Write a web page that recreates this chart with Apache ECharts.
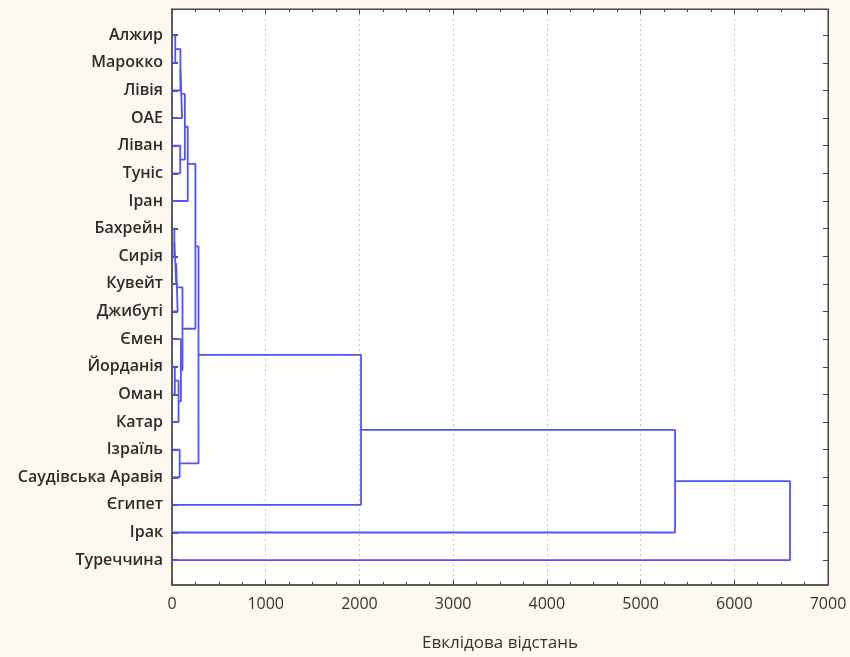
<!DOCTYPE html>
<html>
<head>
<meta charset="utf-8">
<script src="https://cdn.jsdelivr.net/npm/echarts@6/dist/echarts.min.js"></script>
<style>
html,body{margin:0;padding:0;background:#fdf9f0;}
#chart{width:850px;height:657px;}
</style>
</head>
<body>
<div id="chart"></div>
<script>
// Leaves (top to bottom)
const countries = ['Алжир','Марокко','Лівія','ОАЕ','Ліван','Туніс','Іран','Бахрейн','Сирія','Кувейт','Джибуті','Ємен','Йорданія','Оман','Катар','Ізраїль','Саудівська Аравія','Єгипет','Ірак','Туреччина'];
// Linkage: merge k creates cluster id 20+k
const mergeLeft  = [0, 20, 21, 4, 22, 24, 7, 26, 27, 12, 29, 11, 28, 15, 25, 34, 35, 36, 37];
const mergeRight = [1, 2, 3, 5, 23, 6, 8, 9, 10, 13, 14, 30, 31, 16, 32, 33, 17, 18, 19];
const mergeDist  = [35, 90, 108, 88, 137, 168, 25, 45, 60, 30, 70, 95, 112, 82, 250, 283, 2017, 5368, 6595];
const xTicks = [0, 1000, 2000, 3000, 4000, 5000, 6000, 7000];
const xTitle = 'Евклідова відстань';

const nLeaf = countries.length;
const pos = [], height = [];
for (let i = 0; i < nLeaf; i++) { pos[i] = i; height[i] = 0; }
const series = [];
const lineColor = '#5252fa';
for (let k = 0; k < mergeLeft.length; k++) {
  const a = mergeLeft[k], b = mergeRight[k], d = mergeDist[k];
  const id = nLeaf + k;
  pos[id] = (pos[a] + pos[b]) / 2;
  height[id] = d;
  series.push({
    type: 'line', xAxisIndex: 0, yAxisIndex: 0, symbol: 'none', silent: true,
    lineStyle: { color: lineColor, width: 1.8 },
    data: [[height[a], pos[a]], [d, pos[a]], [d, pos[b]], [height[b], pos[b]]]
  });
}

const chart = echarts.init(document.getElementById('chart'), null, { renderer: 'canvas' });
const labelFont = { fontFamily: 'Open Sans', fontSize: 16, fontWeight: 600, color: '#2c2c2c' };
const yVals = countries.map((c, i) => i);
const option = {
  animation: false,
  backgroundColor: '#fdf9f0',
  grid: { left: 172, right: 22, top: 9, bottom: 69, show: true, backgroundColor: '#ffffff', borderColor: '#444', borderWidth: 1 },
  xAxis: [{
    type: 'value', position: 'bottom', min: xTicks[0], max: xTicks[xTicks.length - 1], interval: 1000,
    name: xTitle, nameLocation: 'middle', nameGap: 50,
    nameTextStyle: { fontFamily: 'Open Sans', fontSize: 17, color: '#333' },
    axisLine: { show: true, onZero: false, lineStyle: { color: '#444', width: 1.5 } },
    axisTick: { show: true, inside: true, length: 5, lineStyle: { color: '#444' } },
    minorTick: { show: true, splitNumber: 4, length: 3, lineStyle: { color: '#444' } },
    axisLabel: { margin: 11, fontFamily: 'Open Sans', fontSize: 16, color: '#333', formatter: v => String(v) },
    splitLine: { show: true, lineStyle: { color: '#c8c8c8', type: [2, 3], width: 1 } }
  }, {
    type: 'value', position: 'top', min: xTicks[0], max: xTicks[xTicks.length - 1], interval: 1000,
    axisLine: { show: true, onZero: false, lineStyle: { color: '#444', width: 1 } },
    axisTick: { show: true, inside: true, length: 5, lineStyle: { color: '#444' } },
    minorTick: { show: true, splitNumber: 4, length: 3, lineStyle: { color: '#444' } },
    axisLabel: { show: false }, splitLine: { show: false }
  }],
  yAxis: [{
    type: 'value', position: 'left', inverse: true, min: -0.95, max: 19.9,
    axisLine: { show: true, onZero: false, lineStyle: { color: '#444', width: 1.5 } },
    axisTick: { show: true, inside: true, length: 6, customValues: yVals, lineStyle: { color: '#222', width: 1.5 } },
    axisLabel: { customValues: yVals, margin: 9, formatter: v => countries[Math.round(v)] || '', ...labelFont },
    splitLine: { show: false }
  }, {
    type: 'value', position: 'right', inverse: true, min: -0.95, max: 19.9,
    axisLine: { show: true, onZero: false, lineStyle: { color: '#444', width: 1 } },
    axisTick: { show: true, inside: true, length: 5, customValues: yVals, lineStyle: { color: '#444' } },
    axisLabel: { show: false }, splitLine: { show: false }
  }],
  series: series
};
chart.setOption(option);
</script>
</body>
</html>
